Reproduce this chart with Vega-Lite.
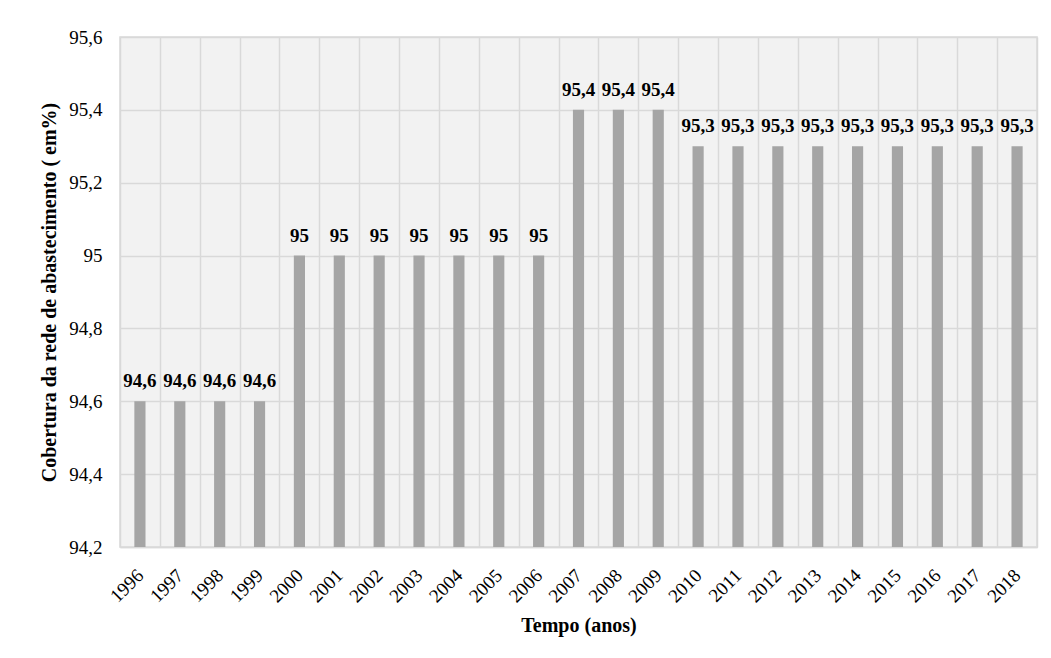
{
  "$schema": "https://vega.github.io/schema/vega-lite/v6.json",
  "width": 917,
  "height": 510,
  "autosize": "none",
  "padding": {"left": 120, "top": 37, "right": 14, "bottom": 111},
  "background": "white",
  "config": {
    "locale": {"number": {"decimal": ",", "thousands": ".", "grouping": [3], "currency": ["R$", ""]}},
    "font": "'Liberation Serif', 'DejaVu Serif', serif",
    "view": {"fill": "#f2f2f2", "stroke": "#d9d9d9", "strokeWidth": 1.5}
  },
  "data": {
    "values": [
      {"ano": "1996", "cobertura": 94.6},
      {"ano": "1997", "cobertura": 94.6},
      {"ano": "1998", "cobertura": 94.6},
      {"ano": "1999", "cobertura": 94.6},
      {"ano": "2000", "cobertura": 95.0},
      {"ano": "2001", "cobertura": 95.0},
      {"ano": "2002", "cobertura": 95.0},
      {"ano": "2003", "cobertura": 95.0},
      {"ano": "2004", "cobertura": 95.0},
      {"ano": "2005", "cobertura": 95.0},
      {"ano": "2006", "cobertura": 95.0},
      {"ano": "2007", "cobertura": 95.4},
      {"ano": "2008", "cobertura": 95.4},
      {"ano": "2009", "cobertura": 95.4},
      {"ano": "2010", "cobertura": 95.3},
      {"ano": "2011", "cobertura": 95.3},
      {"ano": "2012", "cobertura": 95.3},
      {"ano": "2013", "cobertura": 95.3},
      {"ano": "2014", "cobertura": 95.3},
      {"ano": "2015", "cobertura": 95.3},
      {"ano": "2016", "cobertura": 95.3},
      {"ano": "2017", "cobertura": 95.3},
      {"ano": "2018", "cobertura": 95.3}
    ]
  },
  "encoding": {
    "x": {
      "field": "ano",
      "type": "ordinal",
      "scale": {"paddingInner": 0, "paddingOuter": 0},
      "axis": {
        "title": "Tempo (anos)",
        "titleFont": "'Liberation Serif', 'DejaVu Serif', serif",
        "titleFontSize": 20,
        "titleFontWeight": "bold",
        "titleColor": "#000000",
        "titlePadding": 10,
        "labelFont": "'Liberation Serif', 'DejaVu Serif', serif",
        "labelAngle": -45,
        "labelAlign": "right",
        "labelBaseline": "middle",
        "labelFontSize": 19,
        "labelColor": "#000000",
        "labelPadding": 25,
        "ticks": false,
        "tickBand": "extent",
        "grid": true,
        "gridColor": "#d9d9d9",
        "gridWidth": 1.5,
        "domainColor": "#d9d9d9",
        "domainWidth": 1.5
      }
    },
    "y": {
      "field": "cobertura",
      "type": "quantitative",
      "scale": {"domain": [94.2, 95.6], "zero": false, "nice": false},
      "axis": {
        "title": "Cobertura da rede de abastecimento ( em%)",
        "titleFont": "'Liberation Serif', 'DejaVu Serif', serif",
        "titleFontSize": 20,
        "titleFontWeight": "bold",
        "titleColor": "#000000",
        "titlePadding": 9,
        "values": [94.2, 94.4, 94.6, 94.8, 95.0, 95.2, 95.4, 95.6],
        "format": ".1~f",
        "labelFont": "'Liberation Serif', 'DejaVu Serif', serif",
        "labelFontSize": 19,
        "labelColor": "#000000",
        "labelPadding": 18,
        "ticks": false,
        "domain": false,
        "grid": true,
        "gridColor": "#d9d9d9",
        "gridWidth": 1.5
      }
    }
  },
  "layer": [
    {
      "mark": {"type": "bar", "color": "#a5a5a5", "width": {"band": 0.28}, "clip": true}
    },
    {
      "mark": {"type": "text", "font": "'Liberation Serif', 'DejaVu Serif', serif", "fontSize": 19, "fontWeight": "bold", "color": "#000000", "baseline": "alphabetic", "dy": -14},
      "encoding": {
        "text": {"field": "cobertura", "type": "quantitative", "format": ".1~f"}
      }
    }
  ]
}
